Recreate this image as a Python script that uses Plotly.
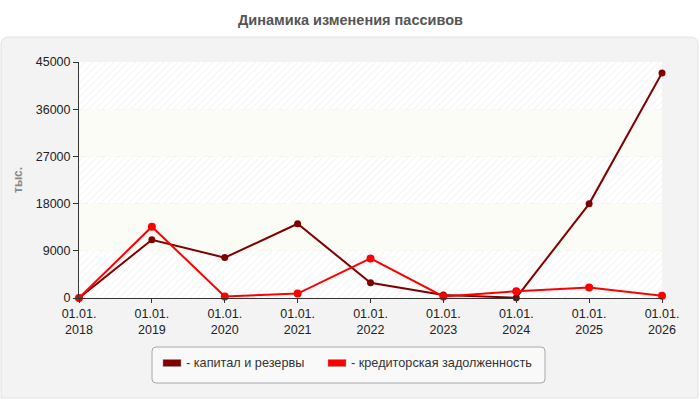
import plotly.graph_objects as go

years = ["2018", "2019", "2020", "2021", "2022", "2023", "2024", "2025", "2026"]
tick_labels = ["01.01.<br>" + y for y in years]
capital = [0, 11100, 7700, 14150, 2900, 560, 60, 17950, 42900]
creditors = [0, 13600, 300, 850, 7550, 300, 1300, 2000, 450]
y_ticks = [0, 9000, 18000, 27000, 36000, 45000]
y_tick_labels = [str(v) for v in y_ticks]
series_names = ["- капитал и резервы", "- кредиторская задолженность"]
series_colors = ["#800000", "#ff0000"]

W, H = 700, 400
L, R, T, B = 79, 38, 62, 102
PW, PH = W - L - R, H - T - B

def px(x):
    return (x - L) / PW

def py(y):
    return (H - B - y) / PH

xs = list(range(len(years)))
fig = go.Figure()

# background bands
for i in range(len(y_ticks) - 1):
    lo, hi = y_ticks[i], y_ticks[i + 1]
    bx = [xs[0], xs[-1], xs[-1], xs[0], xs[0]]
    by = [lo, lo, hi, hi, lo]
    if i % 2 == 0:
        fig.add_trace(go.Scatter(x=bx, y=by, fill="toself", mode="none",
                                 fillcolor="white",
                                 fillpattern=dict(shape="/", fgcolor="#e6e6e6", bgcolor="white",
                                                  size=5, solidity=0.2),
                                 hoverinfo="skip", showlegend=False))
    else:
        fig.add_trace(go.Scatter(x=bx, y=by, fill="toself", mode="none",
                                 fillcolor="#fcfcf6", hoverinfo="skip", showlegend=False))

for name, vals, col, ms in [(series_names[0], capital, series_colors[0], 7),
                            (series_names[1], creditors, series_colors[1], 8)]:
    fig.add_trace(go.Scatter(x=xs, y=vals, mode="lines+markers", name=name,
                             line=dict(color=col, width=2),
                             marker=dict(color=col, size=ms),
                             cliponaxis=False, showlegend=False))

shapes = []
# outer panel
r = 8
x0, x1 = px(1), px(698)
y0, y1 = py(37), py(398)
rx, ry = r / PW, r / PH
panel = (f"M {x0+rx} {y0} L {x1-rx} {y0} Q {x1} {y0} {x1} {y0-ry} L {x1} {y1} "
         f"L {x0} {y1} L {x0} {y0-ry} Q {x0} {y0} {x0+rx} {y0} Z")
shapes.append(dict(type="path", xref="paper", yref="paper", path=panel,
                   fillcolor="#f3f3f3", line=dict(color="#e2e2e2", width=1), layer="below"))
# legend box
lx0, lx1 = px(152), px(545)
ly0, ly1 = py(347), py(383)
rx, ry = 4 / PW, 4 / PH
lbox = (f"M {lx0+rx} {ly0} L {lx1-rx} {ly0} Q {lx1} {ly0} {lx1} {ly0-ry} L {lx1} {ly1+ry} "
        f"Q {lx1} {ly1} {lx1-rx} {ly1} L {lx0+rx} {ly1} Q {lx0} {ly1} {lx0} {ly1+ry} "
        f"L {lx0} {ly0-ry} Q {lx0} {ly0} {lx0+rx} {ly0} Z")
shapes.append(dict(type="path", xref="paper", yref="paper", path=lbox,
                   fillcolor="#f9f9f9", line=dict(color="#a8a8a8", width=1), layer="above"))
# plot border
shapes.append(dict(type="rect", xref="x", yref="y", x0=xs[0], x1=xs[-1], y0=y_ticks[0], y1=y_ticks[-1],
                   line=dict(color="#dedede", width=1), fillcolor="rgba(0,0,0,0)", layer="below"))

annotations = []
leg_items = [(163, 181, 184), (328, 346, 349)]
for (sx0, sx1, tx), name, col in zip(leg_items, series_names, series_colors):
    shapes.append(dict(type="rect", xref="paper", yref="paper",
                       x0=px(sx0), x1=px(sx1), y0=py(366.5), y1=py(359.5),
                       fillcolor=col, line=dict(color="#999", width=0.5), layer="above"))
    annotations.append(dict(text=name, xref="paper", yref="paper", x=px(tx), y=py(363),
                            xanchor="left", yanchor="middle", showarrow=False,
                            font=dict(size=12.7, color="#333", family="Liberation Sans, Arial")))

annotations.append(dict(text="<b>Динамика изменения пассивов</b>", xref="paper", yref="paper",
                        x=px(350), y=py(20), xanchor="center", yanchor="middle", showarrow=False,
                        font=dict(size=14.5, color="#555", family="Liberation Sans, Arial")))
annotations.append(dict(text="<b>тыс.</b>", xref="paper", yref="paper", x=px(18), y=py(180),
                        xanchor="center", yanchor="middle", showarrow=False, textangle=-90,
                        font=dict(size=12, color="#888", family="Liberation Sans, Arial")))

fig.update_layout(
    width=W, height=H, margin=dict(l=L, r=R, t=T, b=B),
    paper_bgcolor="white", plot_bgcolor="white",
    shapes=shapes, annotations=annotations, showlegend=False,
    font=dict(family="Liberation Sans, Arial", size=12, color="#222"),
)
fig.update_xaxes(range=[xs[0], xs[-1]], tickvals=xs, ticktext=tick_labels,
                 showgrid=True, gridcolor="#dcdcdc", griddash="dash", gridwidth=1,
                 showline=True, linecolor="#333", linewidth=1,
                 ticks="outside", ticklen=4, tickcolor="#333", zeroline=False,
                 tickfont=dict(size=12.5, color="#222"))
fig.update_yaxes(range=[y_ticks[0], y_ticks[-1]], tickvals=y_ticks, ticktext=y_tick_labels,
                 showgrid=True, gridcolor="#dcdcdc", griddash="dash", gridwidth=1,
                 showline=True, linecolor="#333", linewidth=1,
                 ticks="outside", ticklen=5, tickcolor="#333", zeroline=False,
                 tickfont=dict(size=12.5, color="#222"))

fig.write_html("out.html")
